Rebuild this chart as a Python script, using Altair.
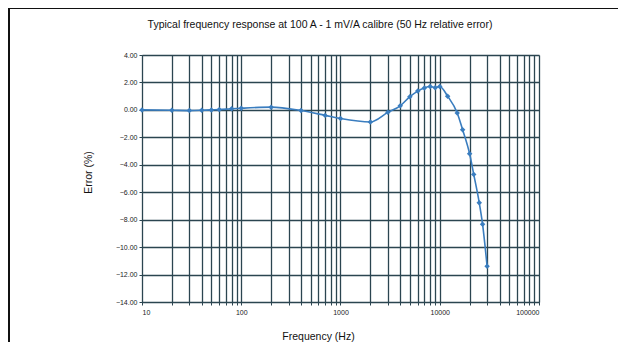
import altair as alt
import pandas as pd

freq = [10, 20, 30, 40, 50, 60, 80, 100, 200, 400, 700, 1000, 2000, 3000, 4000,
        5000, 6000, 7000, 8000, 9000, 10000, 12000, 15000, 17000, 20000, 22000,
        25000, 27000, 30000]
err = [0.0, -0.03, -0.05, -0.03, 0.0, 0.02, 0.08, 0.12, 0.2, -0.05, -0.4, -0.63,
       -0.88, -0.18, 0.3, 0.96, 1.37, 1.6, 1.7, 1.62, 1.7, 1.0, -0.23, -1.45,
       -3.2, -4.7, -6.77, -8.33, -11.4]

x_grid = [m * 10 ** d for d in range(1, 5) for m in range(1, 10)] + [100000]
x_labels = [10, 100, 1000, 10000, 100000]
y_ticks = [-14, -12, -10, -8, -6, -4, -2, 0, 2, 4]
title_text = ["Typical frequency response at 100 A - 1 mV/A calibre (50 Hz relative error)"]

df = pd.DataFrame({"f": freq, "e": err})

FONT = "Liberation Sans, Arial, sans-serif"
GRID = "#2b4550"

xenc = alt.X("f:Q", scale=alt.Scale(type="log", domain=[10, 100000], nice=False),
             axis=alt.Axis(values=x_grid, format="d", labelOverlap=False,
                           labelExpr="indexof(" + str(x_labels) + ", datum.value) >= 0 ? datum.label : ''",
                           title="Frequency (Hz)", grid=True, gridColor=GRID, gridWidth=1.3,
                           gridOpacity=1, domainColor=GRID, tickColor=GRID, tickSize=3,
                           labelFont=FONT, labelFontSize=7, labelColor="#222",
                           labelPadding=3, titleFont=FONT, titleFontSize=10.5,
                           titleFontWeight="normal", titleColor="#111",
                           titleX=176, titleY=34, titleAnchor="start", titleAlign="center",
                           titleBaseline="middle"))
yenc = alt.Y("e:Q", scale=alt.Scale(domain=[-14, 4], nice=False),
             axis=alt.Axis(values=y_ticks, format=".2f", title="Error (%)", grid=True,
                           labelOverlap=False, tickCount=10,
                           gridColor=GRID, gridWidth=1.3, gridOpacity=1, domainColor=GRID,
                           tickColor=GRID, tickSize=3, labelFont=FONT,
                           labelFontSize=7, labelColor="#222", labelPadding=2,
                           titleFont=FONT, titleFontSize=10.5, titleFontWeight="normal",
                           titleColor="#111", titleX=-54, titleY=117, titleAngle=-90,
                           titleAlign="center", titleBaseline="middle", titleAnchor="start"))

base = alt.Chart(df).encode(x=xenc, y=yenc)

line = base.mark_line(interpolate="monotone", color="#3a7dbf", strokeWidth=1.6)
pts = base.mark_point(shape="diamond", filled=True, color="#3a7dbf", size=30, opacity=1)

title_layer = alt.Chart(pd.DataFrame({"t": title_text})).mark_text(
    font=FONT, fontSize=10.5, color="#111", align="center", baseline="middle", clip=False
).encode(text="t:N", x=alt.value(178), y=alt.value(-30))

frame_top = alt.Chart(pd.DataFrame({"a": [0]})).mark_rule(color="#111", strokeWidth=2, clip=False).encode(
    x=alt.value(-134), x2=alt.value(480), y=alt.value(-47))
frame_left = alt.Chart(pd.DataFrame({"a": [0]})).mark_rule(color="#111", strokeWidth=2, clip=False).encode(
    x=alt.value(-133), y=alt.value(-47), y2=alt.value(290))

chart = alt.layer(frame_top, frame_left, title_layer, line, pts).properties(
    width=397, height=247,
    autosize=alt.AutoSizeParams(type="none"),
    padding={"left": 134, "top": 47, "right": 79, "bottom": 40},
).configure_view(stroke=GRID, strokeWidth=1.3).configure(background="white")

chart.save("out.html", embed_options={"renderer": "svg", "actions": False})
